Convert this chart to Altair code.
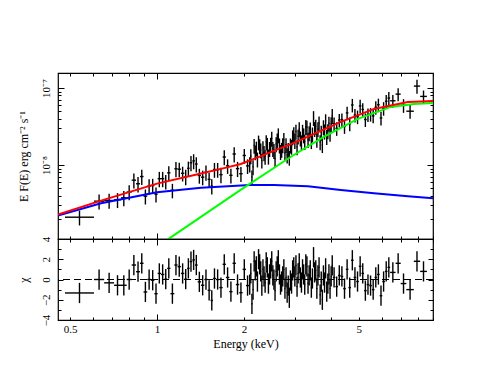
import altair as alt
import pandas as pd

FONT = "Liberation Serif"

# ---- spectral bins (keV): contiguous bin edges ----
edges = [0.48, 0.605, 0.656, 0.71, 0.75, 0.785, 0.817, 0.846, 0.873, 0.898, 0.925,
         0.953, 0.979, 1.005, 1.032, 1.06, 1.084, 1.113, 1.148, 1.178, 1.21, 1.243,
         1.271, 1.297, 1.325, 1.353, 1.383, 1.42, 1.458, 1.497, 1.533, 1.562, 1.60,
         1.643, 1.687, 1.732, 1.779, 1.826, 1.875, 1.926, 1.979, 2.032, 2.085,
         2.103, 2.122, 2.141, 2.160, 2.179, 2.198, 2.217, 2.237, 2.257, 2.276,
         2.296, 2.317, 2.337, 2.357, 2.378, 2.399, 2.420, 2.442, 2.464, 2.485,
         2.507, 2.529, 2.551, 2.574, 2.597, 2.619, 2.642, 2.666, 2.689, 2.713,
         2.737, 2.761, 2.785, 2.810, 2.835, 2.859, 2.884, 2.910, 2.936, 2.962,
         2.988, 3.014, 3.041, 3.067, 3.094, 3.122, 3.150, 3.177, 3.205, 3.233,
         3.261, 3.290, 3.319, 3.349, 3.379, 3.408, 3.438, 3.468, 3.499, 3.530,
         3.561, 3.592, 3.624, 3.656, 3.688, 3.720, 3.753, 3.786, 3.819, 3.853,
         3.887, 3.921, 3.956, 3.991, 4.026, 4.061,
         4.146, 4.233, 4.322, 4.413, 4.506, 4.600, 4.697, 4.796, 4.896, 4.999,
         5.104, 5.211, 5.321, 5.432, 5.546, 5.663, 5.782, 5.903, 6.027, 6.154,
         6.283, 6.415,
         6.70, 6.98, 7.30, 7.75, 8.15, 8.60]

# E F(E) in units of 1e-8 erg cm^-2 s^-1
flux = [0.210, 0.339, 0.346, 0.354, 0.375, 0.446, 0.635, 0.571, 0.708, 0.394,
        0.533, 0.542, 0.418, 0.664, 0.665, 0.612, 0.791, 0.469, 0.893, 0.883,
        0.781, 0.705, 0.907, 1.07, 1.13, 1.03, 0.732, 0.695, 0.805, 0.651,
        0.533, 0.873, 0.873, 0.750, 1.27, 0.976, 0.735, 1.39, 0.897, 0.771,
        1.33, 0.974,
        1.03, 1.31, 0.697, 0.947, 1.79, 1.47, 1.65, 1.19, 1.98, 1.77,
        1.56, 1.15, 1.67, 1.44, 1.29, 2.00, 1.84, 1.30, 1.63, 1.85,
        2.22, 1.63, 1.54, 1.21, 1.88, 2.10, 2.45, 1.81, 1.49, 1.59,
        1.82, 2.13, 1.44, 1.83, 1.35, 1.58, 1.25, 1.81, 1.74, 2.31,
        2.54, 2.08, 2.73, 1.72, 2.36, 2.94, 2.23, 1.99, 2.73, 2.45,
        2.02, 3.14, 3.09, 2.13, 2.61, 2.92, 2.07, 2.52, 4.11, 2.96,
        3.18, 2.15, 2.94, 3.50, 2.00, 2.65, 1.84, 3.12, 2.75, 3.74,
        2.33, 2.77, 3.48, 2.56, 3.43, 4.36,
        3.45, 2.99, 3.84, 3.89, 3.17, 4.75, 3.44, 6.02, 4.45, 4.24,
        5.86, 5.27, 3.90, 4.52, 4.57, 4.35, 5.62, 6.06, 4.08, 5.46,
        6.74, 7.41,
        6.83, 8.33, 5.96, 5.00, 10.6, 7.78]

flux_err = [0.046, 0.075, 0.076, 0.078, 0.083, 0.098, 0.14, 0.13, 0.16, 0.087,
            0.12, 0.12, 0.092, 0.15, 0.15, 0.13, 0.17, 0.10, 0.20, 0.19,
            0.17, 0.16, 0.20, 0.24, 0.25, 0.23, 0.16, 0.15, 0.18, 0.14,
            0.12, 0.19, 0.19, 0.17, 0.28, 0.21, 0.16, 0.31, 0.20, 0.17,
            0.29, 0.21,
            0.23, 0.29, 0.15, 0.21, 0.39, 0.32, 0.36, 0.26, 0.43, 0.39,
            0.34, 0.25, 0.37, 0.32, 0.28, 0.44, 0.41, 0.29, 0.36, 0.41,
            0.49, 0.36, 0.34, 0.27, 0.41, 0.46, 0.54, 0.40, 0.33, 0.35,
            0.40, 0.47, 0.32, 0.40, 0.30, 0.35, 0.27, 0.40, 0.38, 0.51,
            0.56, 0.46, 0.60, 0.38, 0.52, 0.65, 0.49, 0.44, 0.60, 0.54,
            0.45, 0.69, 0.68, 0.47, 0.58, 0.64, 0.46, 0.55, 0.90, 0.65,
            0.70, 0.47, 0.65, 0.77, 0.44, 0.58, 0.41, 0.69, 0.61, 0.82,
            0.51, 0.61, 0.76, 0.56, 0.75, 0.96,
            0.69, 0.60, 0.77, 0.78, 0.63, 0.95, 0.69, 1.20, 0.89, 0.85,
            1.17, 1.05, 0.78, 0.90, 0.91, 0.87, 1.12, 1.21, 0.82, 1.09,
            1.35, 1.48,
            1.30, 1.60, 1.20, 1.00, 2.20, 1.50]

# residuals (chi)
chi = [-1.33, 0.0, -0.33, -0.57, -0.57, 0.0, 1.43, 0.77, 1.6, -1.23,
       0.0, -0.07, -1.4, 0.6, 0.5, 0.03, 1.1, -1.4, 1.43, 1.27,
       0.6, 0.03, 1.1, 1.77, 1.93, 1.43, -0.23, -0.57, 0.0, -1.07,
       -2.07, 0.1, 0.0, -0.8, 1.5, 0.2, -1.2, 1.6, -0.5, -1.3,
       1.0, -0.6,
       -0.5, 0.6, -2.4, -1.0, 1.8, 0.9, 1.3, -0.2, 2.0, 1.5,
       0.8, -0.6, 1.0, 0.3, -0.3, 1.7, 1.2, -0.4, 0.5, 1.1,
       1.8, 0.4, 0.0, -1.1, 0.8, 1.3, 1.9, 0.5, -0.5, -0.2,
       0.3, 1.0, -0.9, 0.2, -1.3, -0.6, -1.8, -0.1, -0.4, 0.9,
       1.2, 0.3, 1.4, -0.7, 0.6, 1.6, 0.2, -0.3, 1.0, 0.5,
       -0.5, 1.5, 1.3, -0.4, 0.4, 0.9, -0.8, 0.1, 2.2, 0.7,
       0.9, -0.9, 0.4, 1.2, -1.5, -0.2, -2.0, 0.4, -0.3, 1.1,
       -1.2, -0.4, 0.5, -0.9, 0.3, 1.4,
       0.2, -0.7, 0.4, 0.3, -0.9, 1.0, -0.8, 1.9, 0.2, -0.2,
       1.3, 0.6, -1.1, -0.5, -0.6, -1.0, 0.2, 0.5, -1.6, -0.2,
       0.8, 1.2,
       0.7, 1.6, -0.4, -1.0, 1.8, 0.8]

# ---- model components ----
blue_energy = [0.454, 0.64, 1.0, 1.42, 2.1, 2.54, 3.33, 4.33, 5.64, 7.39, 9.03]
blue_flux = [0.221, 0.318, 0.442, 0.508, 0.548, 0.551, 0.529, 0.475, 0.429, 0.393, 0.37]

green_energy = [1.09, 1.953, 2.908, 3.78, 4.96, 6.45, 7.75, 9.03]
green_flux = [0.108, 0.479, 1.28, 2.32, 3.97, 5.68, 6.21, 6.40]

red_energy = [0.454, 0.64, 1.0, 1.42, 1.75, 1.95, 2.2, 2.5, 2.98, 3.5, 4.33,
              5.0, 5.64, 6.45, 7.39, 9.03]
red_flux = [0.228, 0.345, 0.573, 0.775, 0.932, 1.03, 1.23, 1.49, 1.94, 2.54, 3.63,
            4.48, 5.35, 5.93, 6.59, 6.79]

# ---- tables ----
df = pd.DataFrame({"lo": edges[:-1], "hi": edges[1:], "flux": flux,
                   "err": flux_err, "chi": chi})
df["E"] = (df["lo"] * df["hi"]) ** 0.5
df["f_lo"] = df["flux"] - df["err"]
df["f_hi"] = df["flux"] + df["err"]
df["c_lo"] = df["chi"] - 1
df["c_hi"] = df["chi"] + 1

blue_df = pd.DataFrame({"E": blue_energy, "F": blue_flux})
green_df = pd.DataFrame({"E": green_energy, "F": green_flux})
red_df = pd.DataFrame({"E": red_energy, "F": red_flux})

# ---- scales ----
xs = alt.Scale(type="log", domain=[0.454, 9.03], nice=False)
yts = alt.Scale(type="log", domain=[0.1094, 15.67], nice=False)
ybs = alt.Scale(type="linear", domain=[-4, 4], nice=False, zero=False)

X_MAJOR = [1]
X_MINOR = [0.5, 0.6, 0.7, 0.8, 0.9, 2, 3, 4, 5, 6, 7, 8, 9]
X_LABELS = [0.5, 1, 2, 5]
YT_MAJOR = [1, 10]
YT_MINOR = [0.2, 0.3, 0.4, 0.5, 0.6, 0.7, 0.8, 0.9, 2, 3, 4, 5, 6, 7, 8, 9]
YB_MAJOR = [-4, -2, 0, 2, 4]
YB_MINOR = [-3, -1, 1, 3]

W, HT, HB = 375, 166, 81


def tick_axis(orient, values, size):
    return alt.Axis(orient=orient, values=values, tickSize=size, offset=-size,
                    labels=False, domain=False, grid=False, title=None,
                    ticks=True, tickColor="black", tickWidth=1)


def label_axis_y(values, title, expr=None):
    kw = dict(orient="left", values=values, ticks=False, tickSize=0, domain=False,
              grid=False, labelAngle=270, labelAlign="center",
              labelBaseline="middle", labelPadding=12, labelFlush=False,
              labelOverlap=False, title=title, titleAngle=270, titleX=-35,
              titleBaseline="middle", labelFontSize=11, titleFontSize=12)
    if expr:
        kw["labelExpr"] = expr
    return alt.Axis(**kw)


ERR = dict(color="black", strokeWidth=1.4)

# ---- top panel ----
base = alt.Chart(df)
top_h = base.mark_rule(**ERR).encode(
    x=alt.X("lo:Q", scale=xs, axis=tick_axis("bottom", X_MINOR, 3)),
    x2="hi:Q",
    y=alt.Y("flux:Q", scale=yts, axis=label_axis_y(
        YT_MAJOR, "E F(E) erg  cm\u207b\u00b2 s\u207b\u00b9",
        "datum.value == 1 ? '10\u207b\u2078' : '10\u207b\u2077'")),
)
top_v = base.mark_rule(**ERR).encode(
    x=alt.X("E:Q", scale=xs, axis=tick_axis("bottom", X_MAJOR, 6)),
    y=alt.Y("f_lo:Q", scale=yts, axis=tick_axis("left", YT_MAJOR, 6)),
    y2="f_hi:Q",
)
blue = alt.Chart(blue_df).mark_line(color="#0000ff", strokeWidth=2, clip=True).encode(
    x=alt.X("E:Q", scale=xs, axis=tick_axis("top", X_MINOR, 3)),
    y=alt.Y("F:Q", scale=yts, axis=tick_axis("left", YT_MINOR, 3)),
)
green = alt.Chart(green_df).mark_line(color="#00ff00", strokeWidth=2, clip=True).encode(
    x=alt.X("E:Q", scale=xs, axis=tick_axis("top", X_MAJOR, 6)),
    y=alt.Y("F:Q", scale=yts, axis=tick_axis("right", YT_MAJOR, 6)),
)
red = alt.Chart(red_df).mark_line(color="#ff0000", strokeWidth=2, clip=True).encode(
    x=alt.X("E:Q", scale=xs, axis=None),
    y=alt.Y("F:Q", scale=yts, axis=tick_axis("right", YT_MINOR, 3)),
)
top = alt.layer(top_h, top_v, blue, green, red).resolve_axis(
    x="independent", y="independent").properties(width=W, height=HT)

# ---- bottom panel ----
zero = alt.Chart(pd.DataFrame({"z": [0]})).mark_rule(
    color="black", strokeWidth=1, strokeDash=[7, 4]).encode(
    y=alt.Y("z:Q", scale=ybs, axis=None))
bot_h = base.mark_rule(**ERR).encode(
    x=alt.X("lo:Q", scale=xs, axis=alt.Axis(
        orient="bottom", values=X_LABELS, format="~g", ticks=False, tickSize=0,
        domain=False, grid=False, labelPadding=3, labelFlush=False,
        labelOverlap=False, title="Energy (keV)", titlePadding=4,
        labelFontSize=11, titleFontSize=12)),
    x2="hi:Q",
    y=alt.Y("chi:Q", scale=ybs, axis=label_axis_y(YB_MAJOR, "\u03c7")),
)
bot_v = base.mark_rule(**ERR).encode(
    x=alt.X("E:Q", scale=xs, axis=tick_axis("bottom", X_MAJOR, 6)),
    y=alt.Y("c_lo:Q", scale=ybs, axis=tick_axis("left", YB_MAJOR, 5)),
    y2="c_hi:Q",
)
helper1 = base.mark_point(opacity=0).encode(
    x=alt.X("E:Q", scale=xs, axis=tick_axis("bottom", X_MINOR, 3)),
    y=alt.Y("chi:Q", scale=ybs, axis=tick_axis("left", YB_MINOR, 3)),
)
helper2 = base.mark_point(opacity=0).encode(
    x=alt.X("E:Q", scale=xs, axis=tick_axis("top", X_MAJOR, 6)),
    y=alt.Y("chi:Q", scale=ybs, axis=tick_axis("right", YB_MAJOR, 5)),
)
helper3 = base.mark_point(opacity=0).encode(
    x=alt.X("E:Q", scale=xs, axis=tick_axis("top", X_MINOR, 3)),
    y=alt.Y("chi:Q", scale=ybs, axis=tick_axis("right", YB_MINOR, 3)),
)
bottom = alt.layer(zero, bot_h, bot_v, helper1, helper2, helper3).resolve_axis(
    x="independent", y="independent").properties(width=W, height=HB)

chart = alt.vconcat(top, bottom, spacing=0, bounds="flush").configure_view(
    stroke="black", strokeWidth=1.2
).configure_axis(
    labelFont=FONT, titleFont=FONT, labelColor="black", titleColor="black",
    titleFontWeight="normal"
).properties(
    padding={"left": 8, "top": 63, "right": 5, "bottom": 5},
    background="white",
)

chart.save("out.html", embed_options={"renderer": "svg", "actions": False})
